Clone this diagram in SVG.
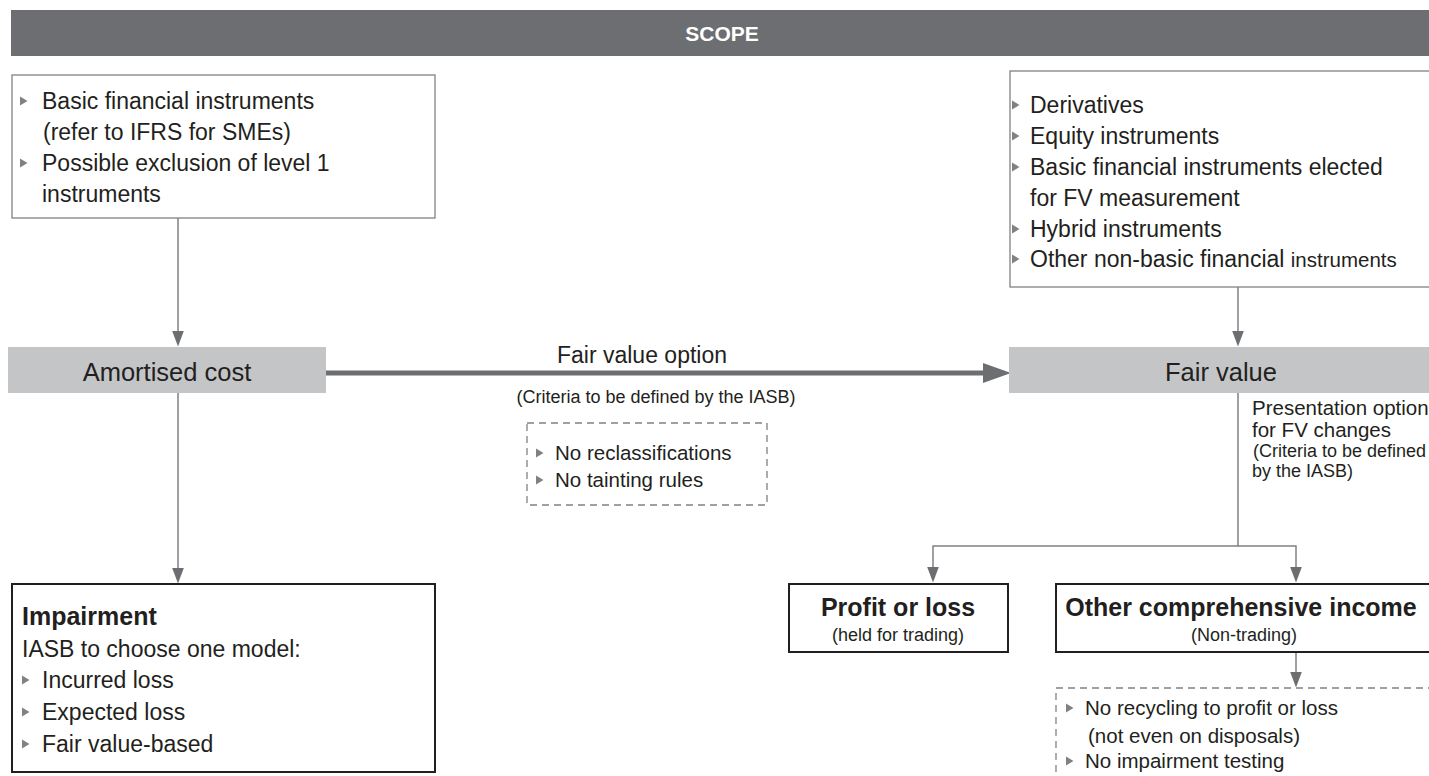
<svg xmlns="http://www.w3.org/2000/svg" xmlns:xlink="http://www.w3.org/1999/xlink" width="1429" height="776" viewBox="0 0 1429 776">
  <style>
    text { font-family: "Liberation Sans", Arial, sans-serif; fill: #231f20; }
    .t23 { font-size: 23px; }
    .t20 { font-size: 20.5px; }
    .t18 { font-size: 18px; }
    .b25 { font-size: 25px; font-weight: bold; }
    .title { font-size: 25.5px; }
    .hdr { font-size: 21px; font-weight: bold; fill: #ffffff; }
    .box { fill: #ffffff; stroke: #808184; stroke-width: 1.3; }
    .boxdark { fill: #ffffff; stroke: #231f20; stroke-width: 2; }
    .grey { fill: #c4c5c7; }
    .dash { fill: none; stroke: #808184; stroke-width: 1.3; stroke-dasharray: 7 5; }
    .conn { fill: none; stroke: #808184; stroke-width: 1.5; }
    .thick { fill: none; stroke: #6d6e71; stroke-width: 5; }
  </style>
  <defs>
    <marker id="arr" viewBox="0 0 16 12" refX="0.5" refY="6" markerWidth="16" markerHeight="12" markerUnits="userSpaceOnUse" orient="auto">
      <path d="M0,0 L16,6 L0,12 z" fill="#6d6e71"/>
    </marker>
    <marker id="arrBig" viewBox="0 0 28 20" refX="1" refY="10" markerWidth="28" markerHeight="20" markerUnits="userSpaceOnUse" orient="auto">
      <path d="M0,0 L28,10 L0,20 z" fill="#6d6e71"/>
    </marker>
    <path id="bul" d="M0,-4.5 L7.5,0 L0,4.5 z" fill="#808184"/>
  </defs>

  <!-- header bar -->
  <g id="scope">
    <rect x="11" y="10" width="1430" height="46" fill="#6d6e71"/>
    <text class="hdr" x="722" y="41" text-anchor="middle">SCOPE</text>
  </g>

  <!-- connectors -->
  <g id="connectors">
    <line class="conn" x1="178" y1="218" x2="178" y2="331" marker-end="url(#arr)"/>
    <line class="conn" x1="178" y1="393" x2="178" y2="568" marker-end="url(#arr)"/>
    <line class="conn" x1="1238" y1="287" x2="1238" y2="331" marker-end="url(#arr)"/>
    <polyline class="conn" points="1238,393 1238,546 933,546 933,567" marker-end="url(#arr)"/>
    <polyline class="conn" points="1238,546 1296,546 1296,567" marker-end="url(#arr)"/>
    <line class="conn" x1="1296" y1="652" x2="1296" y2="672" marker-end="url(#arr)"/>
    <line class="thick" x1="326" y1="373" x2="984" y2="373" marker-end="url(#arrBig)"/>
    <text class="t23" x="642" y="363" text-anchor="middle">Fair value option</text>
    <text class="t18" x="656" y="403" text-anchor="middle">(Criteria to be defined by the IASB)</text>
    <text class="t20" x="1252" y="415">Presentation option</text>
    <text class="t20" x="1252" y="437">for FV changes</text>
    <text class="t18" x="1253" y="457">(Criteria to be defined</text>
    <text class="t18" x="1252" y="477">by the IASB)</text>
  </g>

  <!-- basic instruments -->
  <g id="basic">
    <rect class="box" x="12" y="75" width="423" height="143"/>
    <use href="#bul" x="20" y="101"/>
    <text class="t23" x="42" y="109">Basic financial instruments</text>
    <text class="t23" x="43" y="140">(refer to IFRS for SMEs)</text>
    <use href="#bul" x="20" y="163"/>
    <text class="t23" x="42" y="171">Possible exclusion of level 1</text>
    <text class="t23" x="42" y="202">instruments</text>
  </g>

  <!-- non-basic instruments -->
  <g id="nonbasic">
    <rect class="box" x="1010" y="71" width="440" height="216"/>
    <use href="#bul" x="1012" y="105"/>
    <text class="t23" x="1030" y="113">Derivatives</text>
    <use href="#bul" x="1012" y="136"/>
    <text class="t23" x="1030" y="144">Equity instruments</text>
    <use href="#bul" x="1012" y="167"/>
    <text class="t23" x="1030" y="175">Basic financial instruments elected</text>
    <text class="t23" x="1030" y="206">for FV measurement</text>
    <use href="#bul" x="1012" y="229"/>
    <text class="t23" x="1030" y="237">Hybrid instruments</text>
    <use href="#bul" x="1012" y="259"/>
    <text class="t23" x="1030" y="267">Other non-basic financial <tspan class="t20">instruments</tspan></text>
  </g>

  <!-- measurement categories -->
  <g id="amortised">
    <rect class="grey" x="8" y="347" width="318" height="46"/>
    <text class="title" x="167" y="381" text-anchor="middle">Amortised cost</text>
  </g>
  <g id="fairvalue">
    <rect class="grey" x="1009" y="347" width="430" height="46"/>
    <text class="title" x="1221" y="381" text-anchor="middle">Fair value</text>
  </g>

  <!-- fair value option restrictions -->
  <g id="restrictions">
    <rect class="dash" x="527" y="423" width="240" height="82"/>
    <use href="#bul" x="536" y="453"/>
    <text class="t20" x="555" y="460">No reclassifications</text>
    <use href="#bul" x="536" y="480"/>
    <text class="t20" x="555" y="487">No tainting rules</text>
  </g>

  <!-- impairment -->
  <g id="impairment">
    <rect class="boxdark" x="12" y="584" width="423" height="188"/>
    <text class="b25" x="22" y="625">Impairment</text>
    <text class="t23" x="22" y="657">IASB to choose one model:</text>
    <use href="#bul" x="22" y="680"/>
    <text class="t23" x="42" y="688">Incurred loss</text>
    <use href="#bul" x="22" y="712"/>
    <text class="t23" x="42" y="720">Expected loss</text>
    <use href="#bul" x="22" y="744"/>
    <text class="t23" x="42" y="752">Fair value-based</text>
  </g>

  <!-- presentation of fair value changes -->
  <g id="profitloss">
    <rect class="boxdark" x="789" y="584" width="219" height="68"/>
    <text class="b25" x="898" y="616" text-anchor="middle">Profit or loss</text>
    <text class="t18" x="898" y="641" text-anchor="middle">(held for trading)</text>
  </g>
  <g id="oci">
    <rect class="boxdark" x="1056" y="584" width="390" height="68"/>
    <text class="b25" x="1241" y="616" text-anchor="middle">Other comprehensive income</text>
    <text class="t18" x="1244" y="641" text-anchor="middle">(Non-trading)</text>
  </g>
  <g id="oci-notes">
    <rect class="dash" x="1056" y="688" width="400" height="110"/>
    <use href="#bul" x="1066" y="708"/>
    <text class="t20" x="1085" y="715">No recycling to profit or loss</text>
    <text class="t20" x="1088" y="743">(not even on disposals)</text>
    <use href="#bul" x="1066" y="761"/>
    <text class="t20" x="1085" y="768">No impairment testing</text>
  </g>
</svg>
